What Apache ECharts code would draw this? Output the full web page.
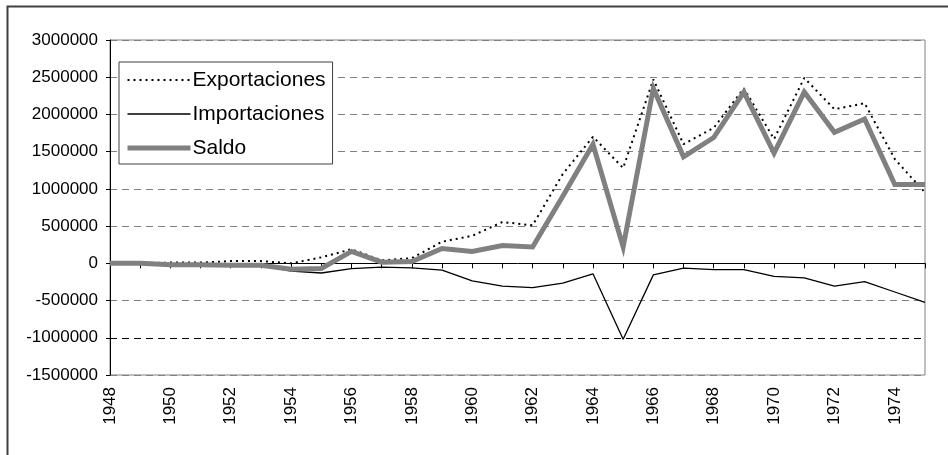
<!DOCTYPE html>
<html>
<head>
<meta charset="utf-8">
<script src="https://cdn.jsdelivr.net/npm/echarts@6/dist/echarts.min.js"></script>
<style>
  html, body { margin: 0; padding: 0; background: #fff; }
  #chart { width: 948px; height: 455px; }
</style>
</head>
<body>
<div id="chart"></div>
<script>
// años y series
var years = ["1948","1949","1950","1951","1952","1953","1954","1955","1956","1957",
  "1958","1959","1960","1961","1962","1963","1964","1965","1966","1967",
  "1968","1969","1970","1971","1972","1973","1974","1975"];

var exportaciones = [0, 0, 10000, 10000, 30000, 30000, 0, 80000, 190000, 40000,
  70000, 290000, 370000, 555000, 510000, 1200000, 1700000, 1280000, 2470000, 1600000,
  1820000, 2350000, 1670000, 2490000, 2070000, 2150000, 1400000, 950000];

var importaciones = [0, 0, -20000, -20000, -25000, -30000, -105000, -130000, -70000, -50000,
  -60000, -90000, -235000, -305000, -325000, -265000, -140000, -1020000, -155000, -65000,
  -85000, -85000, -175000, -195000, -305000, -245000, -385000, -525000];

var saldo = [0, 0, -20000, -20000, -25000, -25000, -80000, -70000, 160000, 15000,
  25000, 200000, 160000, 240000, 220000, 900000, 1600000, 220000, 2350000, 1430000,
  1690000, 2300000, 1480000, 2300000, 1760000, 1940000, 1060000, 1060000];

var chart = echarts.init(document.getElementById("chart"));
var font = "Liberation Sans";

chart.setOption({
  animation: false,
  backgroundColor: "#fff",
  graphic: [{
    type: "rect",
    left: 5,
    top: 4,
    shape: { width: 960, height: 470 },
    style: { fill: "none", stroke: "#404040", lineWidth: 2 },
    silent: true
  }],
  grid: {
    left: 110,
    right: 23,
    top: 40,
    bottom: 80,
    show: true,
    borderColor: "#808080",
    borderWidth: 1
  },
  legend: {
    orient: "vertical",
    left: 119,
    top: 62,
    padding: [6, 7, 4, 6],
    itemGap: 10,
    itemWidth: 63,
    itemHeight: 14,
    backgroundColor: "#fff",
    borderColor: "#404040",
    borderWidth: 1,
    borderRadius: 0,
    itemStyle: { opacity: 0 },
    textStyle: { fontFamily: font, fontSize: 21, color: "#000", lineHeight: 24, padding: [0, 0, 0, -3] },
    data: [
      { name: "Exportaciones", lineStyle: { width: 2, type: [2, 4], color: "#000" } },
      { name: "Importaciones", lineStyle: { width: 1.3, color: "#000" } },
      { name: "Saldo", lineStyle: { width: 5, color: "#808080" } }
    ]
  },
  xAxis: {
    type: "category",
    data: years,
    boundaryGap: false,
    axisLine: { lineStyle: { color: "#000", width: 1 } },
    axisTick: { show: true, interval: 0, length: 5, lineStyle: { color: "#000" } },
    axisLabel: {
      interval: 1,
      rotate: 90,
      margin: 12,
      fontFamily: font,
      fontSize: 17,
      color: "#000"
    },
    splitLine: { show: false }
  },
  yAxis: {
    type: "value",
    min: -1500000,
    max: 3000000,
    interval: 500000,
    axisLine: { show: true, lineStyle: { color: "#000", width: 1 } },
    axisTick: { show: true, length: 4, lineStyle: { color: "#000" } },
    axisLabel: {
      fontFamily: font, fontSize: 17, color: "#000", margin: 12,
      formatter: function (v) { return String(v); }
    },
    splitLine: {
      show: true,
      lineStyle: {
        type: [7, 5],
        width: 1,
        color: ["#808080", "#000", "#808080", "#000", "#808080", "#808080",
          "#808080", "#808080", "#808080", "#808080"]
      }
    }
  },
  series: [
    {
      name: "Exportaciones",
      type: "line",
      symbol: "none",
      data: exportaciones,
      color: "#000",
      lineStyle: { color: "#000", width: 2, type: [2, 4] },
      z: 3
    },
    {
      name: "Importaciones",
      type: "line",
      symbol: "none",
      data: importaciones,
      color: "#000",
      lineStyle: { color: "#000", width: 1.3 },
      z: 3
    },
    {
      name: "Saldo",
      type: "line",
      symbol: "none",
      data: saldo,
      color: "#808080",
      lineStyle: { color: "#808080", width: 5, join: "miter" },
      z: 4
    }
  ]
});
</script>
</body>
</html>
